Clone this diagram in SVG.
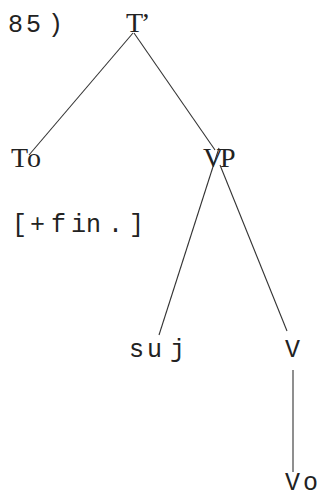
<svg xmlns="http://www.w3.org/2000/svg" width="321" height="498" viewBox="0 0 321 498">
<style>
.m{font-family:"Liberation Mono","DejaVu Sans Mono",monospace;font-size:25px;fill:#222}
.s{font-family:"Liberation Serif","DejaVu Serif",serif;font-size:28px;fill:#222}
.e{stroke:#333;stroke-width:1.1;fill:none}
</style>
<rect width="321" height="498" fill="#fff"/>
<g id="label"><text class="m" x="8 26 48" y="32">85)</text></g>
<g id="connectors">
<line class="e" x1="133" y1="33" x2="29" y2="155"/>
<line class="e" x1="134" y1="33" x2="215" y2="150"/>
<line class="e" x1="219" y1="148" x2="159" y2="335"/>
<line class="e" x1="220" y1="165" x2="287" y2="331"/>
<line class="e" x1="293" y1="370" x2="293" y2="472"/>
</g>
<g id="n-T"><text class="s" x="126 141" y="32">T’</text></g>
<g id="n-To"><text class="s" x="11 27" y="167">To</text></g>
<g id="n-VP"><text class="s" x="203 220" y="167">VP</text></g>
<g id="feat"><text class="m" x="12 30 51 71 86 108 129" y="232">[+fin.]</text></g>
<g id="n-suj"><text class="m" x="129 147 170" y="357">suj</text></g>
<g id="n-V"><text class="m" x="285" y="357">V</text></g>
<g id="n-Vo"><text class="m" x="285 303" y="490">Vo</text></g>
</svg>
